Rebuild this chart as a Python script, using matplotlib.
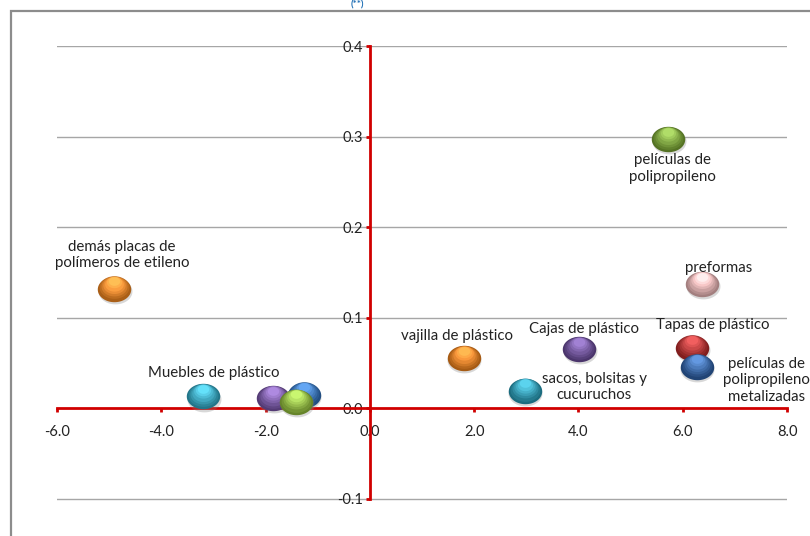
import matplotlib
matplotlib.use("Agg")
import matplotlib.pyplot as plt
import numpy as np
from matplotlib.path import Path
from matplotlib.patches import Rectangle
from matplotlib.transforms import offset_copy

# products (x: growth index, y: market share change)
labels = ['demás placas de\npolímeros de etileno', 'Muebles de plástico', '', '', '',
          'vajilla de plástico', 'sacos, bolsitas y\ncucuruchos', 'Cajas de plástico',
          'películas de\npolipropileno', 'preformas', 'Tapas de plástico',
          'películas de\npolipropileno\nmetalizadas']
x_vals = [-4.91, -3.20, -1.86, -1.27, -1.42, 1.80, 2.97, 4.01, 5.72, 6.37, 6.18, 6.27]
y_vals = [0.132, 0.013, 0.011, 0.015, 0.007, 0.055, 0.019, 0.065, 0.297, 0.137, 0.067, 0.046]
colors = ['#EC8420', '#2FA3BE', '#7452A2', '#2F6DB5', '#8DB83A', '#E67E1C',
          '#2696B0', '#684A96', '#76A032', '#E2B0B0', '#B32A2A', '#2E5FA3']

x_ticks = [-6.0, -4.0, -2.0, 0.0, 2.0, 4.0, 6.0, 8.0]
y_ticks = [-0.1, 0.0, 0.1, 0.2, 0.3, 0.4]

# label offsets in points (dx, dy)
offsets = [(6, 24), (8, 17), (0, 0), (0, 0), (0, 0), (-5, 16), (50, 3), (3.6, 15),
           (3, -21), (12, 11.5), (15, 16), (50, -10)]

plt.rcParams['font.family'] = ['Lato', 'DejaVu Sans']

fig = plt.figure(figsize=(8.1, 5.36), dpi=100)
ax = fig.add_axes([57 / 810, 35 / 536, 730 / 810, 455 / 536])
ax.set_xlim(-6, 8)
ax.set_ylim(-0.1025, 0.4)

# chart frame (cropped at right and bottom)
fig.add_artist(Rectangle((11 / 810, -0.1), 1.2, 1.1 - 11 / 536, transform=fig.transFigure,
                         fill=False, edgecolor='#8C8C8C', linewidth=1.6))
fig.text(357 / 810, 1 - 5 / 536, '(**)', color='#1F6FB5', fontsize=7, fontweight='bold',
         ha='center', va='center')

# gridlines
for yv in y_ticks:
    if yv != 0:
        ax.axhline(yv, color='#A6A6A6', linewidth=1, zorder=0)

for s in ['top', 'right']:
    ax.spines[s].set_visible(False)
ax.spines['left'].set_position(('data', 0))
ax.spines['bottom'].set_position(('data', 0))
ax.spines['left'].set_bounds(-0.1, 0.4)
for s in ['left', 'bottom']:
    ax.spines[s].set_color('#D00000')
    ax.spines[s].set_linewidth(2)
ax.set_xticks(x_ticks)
ax.set_xticklabels([f'{v:.1f}' for v in x_ticks])
ax.set_yticks(y_ticks)
ax.set_yticklabels([f'{v:.1f}' for v in y_ticks])
ax.tick_params(axis='both', direction='out', color='#D00000', length=3, width=2,
               labelsize=10.5, labelcolor='#222222')
ax.tick_params(axis='x', pad=9)
ax.tick_params(axis='y', pad=2)

# sphere-like ellipse markers
theta = np.linspace(0, 2 * np.pi, 80)
ellipse = Path(np.column_stack([np.cos(theta), 0.76 * np.sin(theta)]), closed=True)
size = 580

shadow_tr = offset_copy(ax.transData, fig=fig, x=0.5, y=-1.5, units='points')
for i in range(len(x_vals)):
    c = np.array(matplotlib.colors.to_rgb(colors[i]))
    z = 3 + i * 0.1
    ax.scatter([x_vals[i]], [y_vals[i]], s=size * 1.03, marker=ellipse, color='#808080',
               alpha=0.3, linewidths=0, transform=shadow_tr, zorder=z)
    ax.scatter([x_vals[i]], [y_vals[i]], s=size, marker=ellipse, facecolor=c * 0.72,
               linewidths=0, zorder=z + 0.01)
    # soft gradient towards the upper centre
    for k in range(1, 7):
        f = 1 - 0.11 * k
        tr = offset_copy(ax.transData, fig=fig, x=0, y=0.9 * k, units='points')
        shade = np.minimum(c * (0.72 + 0.06 * k) + 0.035 * k, 1)
        ax.scatter([x_vals[i]], [y_vals[i]], s=size * f * f, marker=ellipse,
                   facecolor=shade, linewidths=0, alpha=0.8, transform=tr,
                   zorder=z + 0.02 + k * 0.001)
    if labels[i]:
        ax.annotate(labels[i], (x_vals[i], y_vals[i]), xytext=offsets[i],
                    textcoords='offset points', ha='center', va='center',
                    fontsize=10.8, color='#222222', zorder=5, annotation_clip=False)

fig.savefig('out.png', dpi=100)
